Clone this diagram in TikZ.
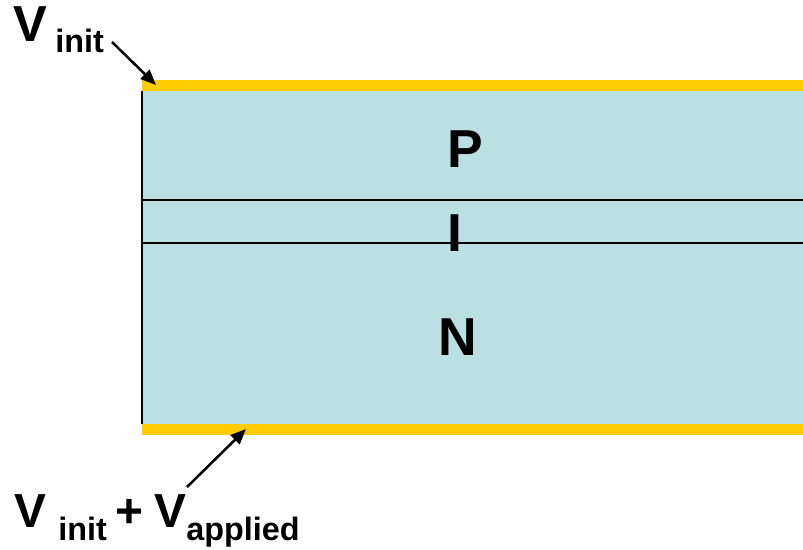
\documentclass[tikz,border=0pt]{standalone}
\usepackage{fontspec}
\setmainfont{Liberation Sans}
\usetikzlibrary{arrows.meta}
\definecolor{pinblue}{HTML}{BAE0E3}
\definecolor{contact}{HTML}{FFCC00}

\begin{document}
\begin{tikzpicture}[x=0.025cm, y=-0.025cm, >={Triangle[length=11pt, width=9pt]},
    region/.style={font=\bfseries\fontsize{38}{40}\selectfont, inner sep=0pt, anchor=base},
    label/.style={font=\bfseries\fontsize{36}{40}\selectfont, inner sep=0pt, anchor=base west},
    sub/.style={font=\bfseries\fontsize{23}{26}\selectfont, inner sep=0pt, anchor=base west}]
    \useasboundingbox (0,0) rectangle (803,550);
    % device layers
    \fill[pinblue] (142,91) rectangle (803,424);
    \fill[contact] (142,80) rectangle (803,91);
    \fill[contact] (142,424) rectangle (803,435);
    \draw[line width=0.8pt] (142,91) -- (142,424);
    \draw[line width=1pt] (142,200) -- (803,200)
                         (142,243) -- (803,243);
    \node[region] (P) at (465,168) {P};
    \node[region] (I) at (454.5,252) {I};
    \node[region] (N) at (458,356) {N};
    % voltages
    \node[label] (Vtop) at (13,42) {V};
    \node[sub] (Vtopsub) at (55,53) {init};
    \node[label, font=\bfseries\fontsize{34}{38}\selectfont] (Vbot) at (14,527) {V};
    \node[sub] (Vbotsub) at (58,540) {init};
    \node[label, font=\bfseries\fontsize{34}{38}\selectfont] (plus) at (115,527) {+};
    \node[label, font=\bfseries\fontsize{34}{38}\selectfont] (Vapp) at (154,527) {V};
    \node[sub] (Vappsub) at (186,540) {applied};
    \coordinate (toptail) at (112,42);
    \coordinate (toptip) at (156,85);
    \coordinate (bottail) at (187,487);
    \coordinate (bottip) at (246,429);
    \draw[->, line width=1.8pt] (toptail) -- (toptip);
    \draw[->, line width=1.8pt] (bottail) -- (bottip);
\end{tikzpicture}
\end{document}
